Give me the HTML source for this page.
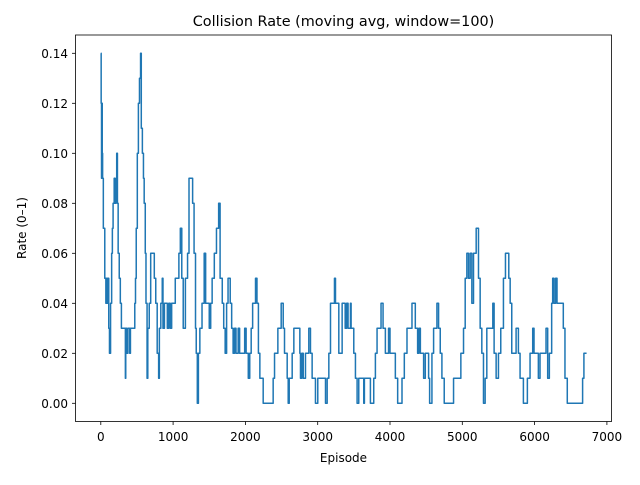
<!DOCTYPE html>
<html><head><meta charset="utf-8"><style>
body{margin:0;background:#fff;width:640px;height:480px;overflow:hidden}
svg text{font-family:"DejaVu Sans","Liberation Sans",sans-serif;fill:#000}
</style></head><body>
<svg id="chart" width="640" height="480" xmlns="http://www.w3.org/2000/svg">
<rect width="640" height="480" fill="#fff"/>
<text x="343.5" y="26" font-size="14.4" text-anchor="middle">Collision Rate (moving avg, window=100)</text>
<text x="343.5" y="462" font-size="12" text-anchor="middle">Episode</text>
<text transform="translate(26,228) rotate(-90)" font-size="12" text-anchor="middle">Rate (0–1)</text>
<g id="ticks"></g>
<path id="series" fill="none" stroke="#1f77b4" stroke-width="1.5" stroke-linejoin="round"/>
<rect x="75.5" y="35" width="536" height="386.5" fill="none" stroke="#000" stroke-width="0.8"/>
</svg>
<script>
const episodes=[
0,5,10,15,20,25,35,55,70,80,
90,100,110,120,135,150,160,170,185,195,
210,220,230,240,255,270,285,340,345,360,
375,400,410,470,480,490,505,520,535,550,
560,575,590,600,615,625,640,650,670,690,
740,760,780,800,810,830,850,860,880,920,
940,960,980,1030,1080,1100,1120,1140,1170,1200,
1220,1270,1290,1310,1320,1335,1350,1370,1400,1430,
1450,1500,1520,1540,1570,1600,1630,1650,1680,1700,
1720,1740,1760,1790,1810,1830,1850,1870,1900,1920,
1990,2010,2040,2060,2080,2100,2140,2160,2180,2200,
2246,2384,2403,2449,2495,2523,2541,2578,2592,2606,
2647,2670,2753,2762,2780,2800,2831,2877,2900,2923,
2969,3001,3108,3131,3154,3177,3232,3246,3292,3338,
3380,3400,3420,3453,3462,3499,3522,3545,3568,3637,
3646,3729,3775,3798,3821,3876,3904,3936,3980,4000,
4074,4106,4166,4198,4235,4304,4350,4382,4400,4420,
4465,4488,4534,4548,4580,4603,4649,4672,4695,4718,
4750,4879,4980,5017,5040,5063,5086,5109,5132,5155,
5192,5224,5247,5270,5293,5316,5339,5422,5440,5468,
5500,5532,5569,5597,5643,5662,5684,5744,5776,5799,
5845,5900,5937,5974,5992,6052,6075,6158,6181,6204,
6236,6250,6268,6290,6310,6351,6397,6420,6452,6664,
6682,6719];
const rates=[
0.14,0.12,0.09,0.12,0.10,0.09,0.07,0.05,0.04,0.05,
0.04,0.05,0.03,0.02,0.04,0.06,0.07,0.08,0.09,0.08,
0.09,0.10,0.08,0.06,0.05,0.04,0.03,0.01,0.03,0.02,
0.03,0.02,0.03,0.04,0.05,0.07,0.10,0.12,0.13,0.14,
0.11,0.10,0.09,0.08,0.06,0.04,0.01,0.03,0.04,0.06,
0.05,0.04,0.02,0.01,0.03,0.04,0.05,0.03,0.04,0.03,
0.04,0.03,0.04,0.05,0.06,0.07,0.05,0.03,0.05,0.06,
0.09,0.08,0.06,0.03,0.02,0.00,0.02,0.03,0.04,0.06,
0.04,0.03,0.04,0.05,0.06,0.07,0.08,0.05,0.04,0.03,
0.02,0.04,0.05,0.04,0.03,0.02,0.03,0.02,0.03,0.02,
0.03,0.02,0.01,0.02,0.03,0.04,0.05,0.04,0.02,0.01,
0.00,0.01,0.02,0.03,0.04,0.03,0.02,0.01,0.00,0.01,
0.02,0.03,0.02,0.01,0.02,0.01,0.02,0.03,0.02,0.01,
0.00,0.01,0.00,0.01,0.02,0.04,0.05,0.04,0.02,0.04,
0.03,0.04,0.03,0.04,0.03,0.02,0.01,0.00,0.01,0.00,
0.01,0.00,0.01,0.02,0.03,0.04,0.03,0.02,0.03,0.02,
0.01,0.00,0.01,0.02,0.03,0.04,0.03,0.02,0.03,0.02,
0.01,0.02,0.01,0.00,0.02,0.03,0.04,0.03,0.02,0.01,
0.00,0.01,0.02,0.03,0.05,0.06,0.05,0.06,0.04,0.06,
0.07,0.05,0.03,0.02,0.00,0.01,0.03,0.04,0.02,0.01,
0.02,0.03,0.05,0.06,0.05,0.04,0.02,0.03,0.02,0.01,
0.00,0.01,0.02,0.03,0.02,0.01,0.02,0.03,0.01,0.02,
0.04,0.05,0.04,0.05,0.04,0.04,0.03,0.01,0.00,0.01,
0.02,0.02];
const xTicks=[0,1000,2000,3000,4000,5000,6000,7000];
const yTicks=[0,0.02,0.04,0.06,0.08,0.10,0.12,0.14];
const NS="http://www.w3.org/2000/svg";
function xs(v){return 100.8+v*0.0723;}
function ys(v){return 403.3-v*2500;}
const g=document.getElementById('ticks');
xTicks.forEach(t=>{
  const l=document.createElementNS(NS,'line');
  
  
  l.setAttribute('x1',xs(t));l.setAttribute('x2',xs(t));l.setAttribute('y1',421.5);l.setAttribute('y2',425);l.setAttribute('stroke','#000');l.setAttribute('stroke-width','0.8');
  g.appendChild(l);
  const tx=document.createElementNS(NS,'text');
  
  
  tx.setAttribute('x',xs(t));tx.setAttribute('y',441);tx.setAttribute('font-size','12');tx.setAttribute('text-anchor','middle');
  tx.textContent=t;g.appendChild(tx);
});
yTicks.forEach(t=>{
  const l=document.createElementNS(NS,'line');
  
  
  l.setAttribute('x1',72);l.setAttribute('x2',75.5);l.setAttribute('y1',ys(t));l.setAttribute('y2',ys(t));l.setAttribute('stroke','#000');l.setAttribute('stroke-width','0.8');
  g.appendChild(l);
  const tx=document.createElementNS(NS,'text');
  
  
  tx.setAttribute('x',68);tx.setAttribute('y',ys(t)+4.5);tx.setAttribute('font-size','12');tx.setAttribute('text-anchor','end');
  tx.textContent=t.toFixed(2);g.appendChild(tx);
});
let d='';
const n=Math.min(episodes.length,rates.length);
for(let i=0;i<n;i++){
  const x=xs(episodes[i]),y=ys(rates[i]);
  if(i===0)d+='M'+x+','+y;
  else d+='H'+x+'V'+y;
}
document.getElementById('series').setAttribute('d',d);
</script>
</body></html>
